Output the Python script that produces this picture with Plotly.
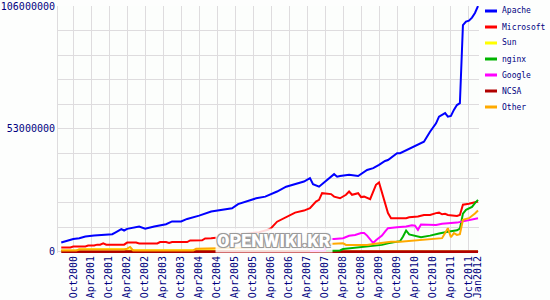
import plotly.graph_objects as go
import pandas as pd

# ---------------- data (values in millions of sites) ----------------
APACHE_DATES = ["2000-06","2000-08","2000-10","2000-12","2001-02","2001-05","2001-09","2001-11","2001-12",
                "2002-02","2002-03","2002-04","2002-08","2002-10","2003-01","2003-05","2003-07","2003-10",
                "2003-12","2004-04","2004-08","2005-03","2005-05","2005-11","2006-02","2006-06","2006-09",
                "2006-12","2007-03","2007-05","2007-06","2007-08","2007-10","2008-01","2008-02","2008-03",
                "2008-06","2008-09","2008-12","2009-02","2009-04","2009-06","2009-07","2009-10","2009-11",
                "2010-01","2010-04","2010-07","2010-09","2010-11","2010-12","2011-02","2011-03","2011-04",
                "2011-05","2011-06","2011-07","2011-08","2011-09","2011-10","2011-11","2011-12","2012-01"]
APACHE_M = [4.0,4.9,5.5,5.9,6.6,7.0,7.3,7.6,8.3,
            9.8,9.2,9.9,10.9,10.0,10.9,11.9,13.1,13.1,
            14.2,15.6,17.4,18.8,20.6,23.1,23.8,26.0,28.1,
            29.3,30.3,31.8,29.2,28.1,30.3,33.5,32.4,32.7,
            33.2,32.7,35.3,36.1,37.5,39.2,39.6,42.5,42.5,
            43.7,45.4,47.5,51.8,55.4,58.3,59.8,58.3,58.6,
            61.2,63.3,64.1,97.8,99.3,99.7,101.0,103.0,106.0]

MS_DATES = ["2000-06","2000-09","2000-10","2001-02","2001-03","2001-05","2001-06","2001-07","2001-08","2001-09",
            "2002-03","2002-04","2002-07","2002-08","2003-02","2003-03","2003-05","2003-06","2003-07","2003-12",
            "2004-01","2004-05","2004-06","2004-08","2005-01","2005-06","2005-12","2006-03","2006-04","2006-06",
            "2006-09","2006-12","2007-03","2007-05","2007-07","2007-08","2007-09","2007-12","2008-01","2008-03",
            "2008-05","2008-06","2008-07","2008-09","2008-10","2008-11","2009-01","2009-02","2009-03","2009-04",
            "2009-05","2009-06","2009-07","2009-08","2010-01","2010-02","2010-05","2010-07","2010-09","2010-11",
            "2010-12","2011-01","2011-02","2011-03","2011-06","2011-07","2011-08","2011-10","2011-11","2012-01"]
MS_M = [1.9,1.9,2.3,2.3,2.7,2.7,3.1,3.1,3.7,3.1,
        3.1,4.0,4.0,3.6,3.6,4.2,4.2,3.8,4.2,4.2,
        4.9,5.0,5.8,5.9,6.5,7.5,8.5,9.5,10.2,13.0,
        14.9,16.9,17.8,18.8,21.7,22.4,25.3,24.9,23.8,23.1,
        24.6,26.0,24.6,25.3,23.6,23.8,22.7,26.0,28.9,29.9,
        25.3,21.0,16.7,14.5,14.5,14.9,15.2,15.9,15.9,16.7,
        16.9,16.2,16.4,15.9,15.5,15.9,20.3,20.7,21.0,21.7]

SUN_DATES = ["2000-06","2000-11","2000-12","2002-03","2002-04","2004-08","2004-12","2007-12","2008-06","2012-01"]
SUN_M = [0.6,0.6,1.1,1.1,0.7,0.7,0.35,0.3,0.2,0.2]

NGINX_DATES = ["2007-08","2008-03","2008-04","2008-09","2009-02","2009-05","2009-07","2009-10","2009-11","2009-12",
               "2010-01","2010-02","2010-04","2010-06","2010-09","2010-11","2010-12","2011-03","2011-06","2011-07",
               "2011-08","2011-09","2011-11","2011-12","2012-01"]
NGINX_M = [0.3,0.6,1.2,1.9,2.3,3.0,3.7,4.4,4.6,6.6,
           9.2,7.5,7.0,6.3,7.0,7.4,7.9,8.7,9.3,10.0,
           16.5,18.1,19.4,21.0,22.4]

GOOGLE_DATES = ["2007-05","2007-10","2007-11","2007-12","2008-01","2008-04","2008-06","2008-08","2008-10","2008-11",
                "2008-12","2009-01","2009-02","2009-03","2009-04","2009-05","2009-06","2009-07","2009-10","2010-01",
                "2010-03","2010-04","2010-05","2010-06","2010-11","2011-01","2011-06","2011-10","2012-01"]
GOOGLE_M = [0.4,0.5,6.3,5.5,5.5,5.9,6.9,7.3,8.1,8.1,
            7.0,5.5,3.8,5.0,5.9,7.0,8.7,10.2,10.6,10.9,
            11.5,11.3,9.5,11.8,11.6,12.1,12.6,13.5,14.5]

NCSA_DATES = ["2000-06","2004-01","2008-01","2012-01"]
NCSA_M = [0.0,0.0,0.0,0.0]

OTHER_DATES = ["2000-06","2000-11","2000-12","2002-03","2002-04","2002-05","2002-06","2004-02","2004-03","2004-09",
               "2005-06","2006-06","2007-06","2007-11","2008-01","2008-04","2008-05","2008-12","2009-02","2009-06",
               "2009-08","2009-11","2010-04","2010-08","2010-11","2011-01","2011-02","2011-03","2011-04","2011-05",
               "2011-06","2011-07","2011-08","2011-10","2011-12","2012-01"]
OTHER_M = [0.6,0.6,1.0,1.0,1.4,2.1,0.6,0.6,1.3,1.4,
           1.8,2.2,2.8,3.4,3.6,3.7,3.0,3.0,3.4,4.0,
           4.4,4.4,4.9,5.2,5.5,5.9,8.1,10.2,6.3,8.1,
           7.3,7.6,13.8,14.5,16.5,17.8]

LEGEND_NAMES = ["Apache", "Microsoft", "Sun", "nginx", "Google", "NCSA", "Other"]
COLORS = {"Apache": "#0000ff", "Microsoft": "#ff0000", "Sun": "#ffff00", "nginx": "#00b400",
          "Google": "#ff00ff", "NCSA": "#b00000", "Other": "#ffaa00"}
SERIES = {"Apache": (APACHE_DATES, APACHE_M), "Microsoft": (MS_DATES, MS_M), "Sun": (SUN_DATES, SUN_M),
          "nginx": (NGINX_DATES, NGINX_M), "Google": (GOOGLE_DATES, GOOGLE_M), "NCSA": (NCSA_DATES, NCSA_M),
          "Other": (OTHER_DATES, OTHER_M)}
DRAW_ORDER = ["Apache", "Microsoft", "Sun", "NCSA", "nginx", "Google", "Other"]

X_TICK_DATES = ["2000-10-01","2001-04-01","2001-10-01","2002-04-01","2002-10-01","2003-04-01","2003-10-01",
                "2004-04-01","2004-10-01","2005-04-01","2005-10-01","2006-04-01","2006-10-01","2007-04-01",
                "2007-10-01","2008-04-01","2008-10-01","2009-04-01","2009-10-01","2010-04-01","2010-10-01",
                "2011-04-01","2011-10-01","2012-01-01"]
X_TICK_LABELS = ["Oct2000","Apr2001","Oct2001","Apr2002","Oct2002","Apr2003","Oct2003","Apr2004","Oct2004",
                 "Apr2005","Oct2005","Apr2006","Oct2006","Apr2007","Oct2007","Apr2008","Oct2008","Apr2009",
                 "Oct2009","Apr2010","Oct2010","Apr2011","Oct2011","Jan2012"]
Y_MAX = 106000000
Y_LABELED = {0: "0", 53000000: "53000000", 106000000: "106000000"}

# ---------------- figure ----------------
NAVY = "#000080"
GRID = "#dedcde"
fig = go.Figure()
for name in DRAW_ORDER:
    d, v = SERIES[name]
    assert len(d) == len(v), name
    fig.add_trace(go.Scatter(
        x=pd.to_datetime(d), y=[val * 1e6 for val in v], mode="lines", name=name,
        line=dict(color=COLORS[name], width=3 if name == "NCSA" else 2),
        showlegend=False, hoverinfo="skip"))

y_ticks = [Y_MAX * k / 10 for k in range(11)]
y_text = [Y_LABELED.get(int(round(t)), "") for t in y_ticks]

L, R, T, B = 58, 71, 6, 47
W, H = 550, 300
pw, ph = W - L - R, H - T - B

fig.update_layout(
    width=W, height=H, margin=dict(l=L, r=R, t=T, b=B, autoexpand=False),
    paper_bgcolor="#fdfefd", plot_bgcolor="#fcfefc",
    font=dict(family="DejaVu Sans Mono", size=10, color=NAVY),
    xaxis=dict(range=["2000-04-29", "2012-01-11"], tickvals=pd.to_datetime(X_TICK_DATES), ticktext=X_TICK_LABELS,
               tickangle=-90, showgrid=True, gridcolor=GRID, gridwidth=1, zeroline=False, showline=False,
               ticks="", tickfont=dict(size=10, color=NAVY), fixedrange=True, automargin=False),
    yaxis=dict(range=[-500000, Y_MAX], tickvals=y_ticks, ticktext=y_text, showgrid=True, gridcolor=GRID,
               gridwidth=1, zeroline=False, showline=True, linecolor=GRID, linewidth=1, ticks="",
               tickfont=dict(size=10, color=NAVY), fixedrange=True, automargin=False),
)

# custom legend (right of the plot)
for i, name in enumerate(LEGEND_NAMES):
    ypx = 11 + 16 * i
    yp = (T + ph - ypx) / ph
    fig.add_shape(type="line", xref="paper", yref="paper",
                  x0=(485 - L) / pw, x1=(497 - L) / pw, y0=yp, y1=yp,
                  line=dict(color=COLORS[name], width=3))
    fig.add_annotation(xref="paper", yref="paper", x=(500 - L) / pw, y=yp, text=name, showarrow=False,
                       xanchor="left", yanchor="middle",
                       font=dict(family="DejaVu Sans Mono", size=8, color=NAVY))

# watermark
fig.add_annotation(xref="paper", yref="paper", x=(274 - L) / pw, y=(T + ph - 240) / ph,
                   text="OPENWIKI.KR", showarrow=False, xanchor="center", yanchor="middle",
                   bgcolor="rgba(255,255,255,0.85)", borderpad=1,
                   font=dict(family="Roboto", size=18, color="#ffffff", weight=900,
                             shadow="1px 1px 0 #9a9a9a, -1px -1px 0 #9a9a9a, 1px -1px 0 #9a9a9a, -1px 1px 0 #9a9a9a, 0 0 3px #bbbbbb"))

fig.write_html("out.html")
